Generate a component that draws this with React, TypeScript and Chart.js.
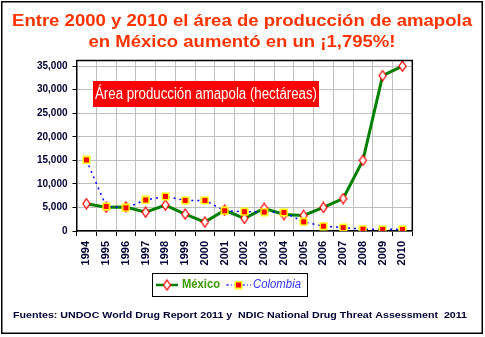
import React, { useEffect, useRef } from "react";
import { Chart, registerables } from "chart.js";

Chart.register(...registerables);

const years = ["1994","1995","1996","1997","1998","1999","2000","2001","2002","2003","2004","2005","2006","2007","2008","2009","2010"];
const mexico = [5800, 5050, 5100, 4000, 5500, 3600, 1900, 4400, 2700, 4800, 3500, 3300, 5000, 6900, 15000, 33000, 35000];
const colombia = [15091, 5226, 4916, 6584, 7350, 6500, 6500, 4300, 4100, 4026, 3950, 1950, 1023, 715, 394, 356, 341];
const yTicks = [0, 5000, 10000, 15000, 20000, 25000, 30000, 35000];
const titleLines = ["Entre 2000 y 2010 el área de producción de amapola", "en México aumentó en un ¡1,795%!"];
const boxLabel = "Área producción amapola (hectáreas)";
const footer = "Fuentes: UNDOC World Drug Report 2011 y  NDIC National Drug Threat Assessment  2011";
const seriesNames = ["México", "Colombia"];

function makeDiamond(): HTMLCanvasElement {
  const c = document.createElement("canvas");
  c.width = 9; c.height = 12;
  const g = c.getContext("2d")!;
  g.fillStyle = "#FFFFFF";
  g.strokeStyle = "#FF0000";
  g.lineWidth = 1.3;
  g.beginPath();
  g.moveTo(4.5, 1); g.lineTo(8, 6); g.lineTo(4.5, 11); g.lineTo(1, 6); g.closePath();
  g.fill(); g.stroke();
  return c;
}

function makeSquare(): HTMLCanvasElement {
  const c = document.createElement("canvas");
  c.width = 9; c.height = 9;
  const g = c.getContext("2d")!;
  g.fillStyle = "#FFFF00";
  g.fillRect(0.5, 0.5, 8, 8);
  g.fillStyle = "#FF0000";
  g.fillRect(2, 2, 5, 5);
  return c;
}

function fitText(ctx: CanvasRenderingContext2D, text: string, x: number, y: number, w: number, align: "left" | "center") {
  const m = ctx.measureText(text).width;
  const s = w / m;
  ctx.save();
  ctx.translate(align === "center" ? x - w / 2 : x, y);
  ctx.scale(s, 1);
  ctx.textAlign = "left";
  ctx.fillText(text, 0, 0);
  ctx.restore();
}

export default function App() {
  const ref = useRef<HTMLCanvasElement | null>(null);
  useEffect(() => {
    document.body.style.margin = "0";
    const diamond = makeDiamond();
    const square = makeSquare();
    const deco = {
      id: "deco",
      beforeDraw(chart: any) {
        const ctx = chart.ctx as CanvasRenderingContext2D;
        ctx.save();
        ctx.fillStyle = "#FFFFFF";
        ctx.fillRect(0, 0, chart.width, chart.height);
        ctx.restore();
      },
      afterDatasetsDraw(chart: any) {
        const ctx = chart.ctx as CanvasRenderingContext2D;
        const a = chart.chartArea;
        ctx.save();
        ctx.strokeStyle = "#000000";
        ctx.lineWidth = 1.5;
        ctx.beginPath();
        ctx.moveTo(a.left, a.top); ctx.lineTo(a.right, a.top); ctx.lineTo(a.right, a.bottom);
        ctx.stroke();
        // annotation box
        ctx.fillStyle = "#FF0000";
        ctx.fillRect(93, 81, 226, 26);
        ctx.fillStyle = "#FFFFFF";
        ctx.font = "16px 'Liberation Sans Narrow', 'Liberation Sans', Arial, sans-serif";
        ctx.textBaseline = "middle";
        fitText(ctx, boxLabel, 95, 94.5, 222, "left");
        ctx.restore();
      },
      afterDraw(chart: any) {
        const ctx = chart.ctx as CanvasRenderingContext2D;
        ctx.save();
        // outer border
        ctx.strokeStyle = "#000000";
        ctx.lineWidth = 1.5;
        ctx.strokeRect(1.75, 1.75, 480.5, 331.5);
        // title
        ctx.fillStyle = "#FF3300";
        ctx.font = "bold 17px 'Liberation Sans', Arial, sans-serif";
        ctx.textBaseline = "middle";
        fitText(ctx, titleLines[0], 242, 21, 460, "center");
        fitText(ctx, titleLines[1], 242, 42, 307, "center");
        // legend
        ctx.lineWidth = 1;
        ctx.strokeStyle = "#000000";
        ctx.strokeRect(152.5, 273.5, 155, 23);
        ctx.strokeStyle = "#008000";
        ctx.lineWidth = 2.5;
        ctx.beginPath(); ctx.moveTo(156, 285); ctx.lineTo(178, 285); ctx.stroke();
        ctx.drawImage(diamond, 162.5, 279);
        ctx.font = "bold 12px 'Liberation Sans', Arial, sans-serif";
        ctx.fillStyle = "#3C9A00";
        fitText(ctx, seriesNames[0], 182, 285, 38, "left");
        ctx.strokeStyle = "#0000FF";
        ctx.lineWidth = 1;
        ctx.setLineDash([3, 2, 1, 2]);
        ctx.beginPath(); ctx.moveTo(226, 285); ctx.lineTo(251, 285); ctx.stroke();
        ctx.setLineDash([]);
        ctx.drawImage(square, 234, 280.5);
        ctx.font = "italic 12px 'Liberation Sans', Arial, sans-serif";
        ctx.fillStyle = "#3333FF";
        fitText(ctx, seriesNames[1], 253, 285, 48, "left");
        // footer
        ctx.font = "bold 9px 'Liberation Sans', Arial, sans-serif";
        ctx.fillStyle = "#000033";
        fitText(ctx, footer, 13, 316, 454, "left");
        ctx.restore();
      },
    };
    const chart = new Chart(ref.current!, {
      type: "line",
      data: {
        labels: years,
        datasets: [
          {
            label: seriesNames[0],
            data: mexico,
            borderColor: "#008000",
            borderWidth: 3,
            pointStyle: diamond as any,
            pointRadius: 5,
            tension: 0,
            order: 2,
          },
          {
            label: seriesNames[1],
            data: colombia,
            borderColor: "#0000FF",
            borderWidth: 1.5,
            borderDash: [2, 4],
            pointStyle: square as any,
            pointRadius: 5,
            tension: 0,
            order: 1,
          },
        ],
      },
      options: {
        responsive: false,
        animation: false,
        devicePixelRatio: 1,
        layout: { padding: { left: 0, right: 72.7, top: 60.5, bottom: 0 } },
        plugins: { legend: { display: false }, title: { display: false }, tooltip: { enabled: false } },
        scales: {
          x: {
            offset: true,
            grid: { offset: true, color: "#C0C0C0", lineWidth: 1, tickColor: "#000000", tickLength: 5 },
            border: { color: "#000000", width: 1.5 },
            ticks: {
              maxRotation: 90,
              minRotation: 90,
              padding: 5,
              color: "#000033",
              font: { family: "'Liberation Sans', Arial, sans-serif", size: 11, weight: "bold" },
            },
            afterFit(scale: any) { scale.height = 106; },
          },
          y: {
            min: 0,
            max: 36200,
            grid: { color: "#C0C0C0", lineWidth: 1, tickColor: "#000000", tickLength: 4 },
            border: { color: "#000000", width: 1.5 },
            afterBuildTicks(scale: any) { scale.ticks = yTicks.map((v) => ({ value: v })); },
            ticks: {
              padding: 5,
              color: "#000033",
              font: { family: "'Liberation Sans', Arial, sans-serif", size: 10, weight: "bold" },
              callback: (v: any) => Number(v).toLocaleString("en-US"),
            },
            afterFit(scale: any) { scale.width = 76.5; },
          },
        },
      },
      plugins: [deco],
    });
    return () => chart.destroy();
  }, []);
  return (
    <div style={{ width: 485, height: 337 }}>
      <canvas ref={ref} width={485} height={337} style={{ display: "block", width: 485, height: 337 }} />
    </div>
  );
}
